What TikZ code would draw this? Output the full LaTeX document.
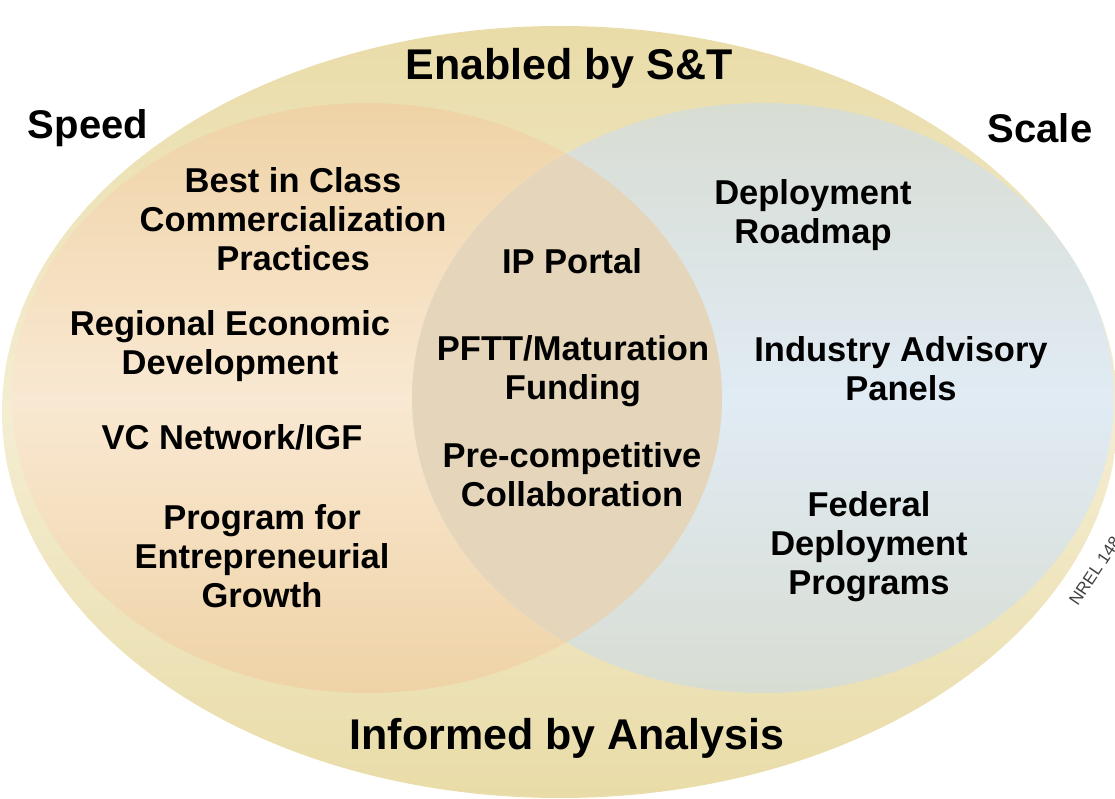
\documentclass[tikz,border=0pt]{standalone}
\usepackage{fontspec}
\setmainfont{Liberation Sans}

\definecolor{outertop}{HTML}{E9DCA8}
\definecolor{outermid}{HTML}{F4EDD2}
\definecolor{speedtop}{HTML}{EFD3A6}
\definecolor{speedmid}{HTML}{F9E8D2}
\definecolor{scaletop}{HTML}{D8DDD3}
\definecolor{scalemid}{HTML}{E0EBF4}
\definecolor{lensfill}{HTML}{E5D6BB}

\begin{document}
\begin{tikzpicture}[x=1pt, y=1pt,
        every node/.style = {align=center, inner sep=0pt,
        font=\bfseries\fontsize{34.5}{39}\selectfont},
        heading/.style = {font=\bfseries\fontsize{43}{48}\selectfont},
        side/.style = {font=\bfseries\fontsize{40}{46}\selectfont},
        stamp/.style = {font=\fontsize{17}{17}\selectfont, text=black!75, rotate=56, anchor=south west}]

        \useasboundingbox (0,0) rectangle (1115,799);

        % the three areas
        \shade[top color=outertop, bottom color=outertop, middle color=outermid]
            (560,387) ellipse [x radius=558, y radius=386];
        \shade[top color=speedtop, bottom color=speedtop, middle color=speedmid]
            (367,401) ellipse [x radius=355, y radius=295];
        \shade[top color=scaletop, bottom color=scaletop, middle color=scalemid]
            (763,401) ellipse [x radius=351, y radius=295];
        \begin{scope}
            \clip (367,401) ellipse [x radius=355, y radius=295];
            \fill[lensfill] (763,401) ellipse [x radius=351, y radius=295];
        \end{scope}

        % headings
        \node[heading] (enabled) at (569,731) {Enabled by S\&T};
        \node[heading] (informed) at (567,61) {Informed by Analysis};
        \node[side] (speed) at (88,671) {Speed};
        \node[side] (scale) at (1040,671) {Scale};

        % speed side
        \node (best) at (293,580) {Best in Class\\Commercialization\\Practices};
        \node (regional) at (230,453) {Regional Economic\\Development};
        \node (vc) at (232,362) {VC Network/IGF};
        \node (program) at (262,243) {Program for\\Entrepreneurial\\Growth};

        % overlap
        \node (ip) at (572,538) {IP Portal};
        \node (pftt) at (573,428) {PFTT/Maturation\\Funding};
        \node (precomp) at (572,324) {Pre-competitive\\Collaboration};

        % scale side
        \node (roadmap) at (813,584) {Deployment\\Roadmap};
        \node (panels) at (901,430) {Industry Advisory\\Panels};
        \node (federal) at (869,252) {Federal\\Deployment\\Programs};

        \node[stamp] (nrel) at (1078,192) {NREL 148};
    \end{tikzpicture}
\end{document}
